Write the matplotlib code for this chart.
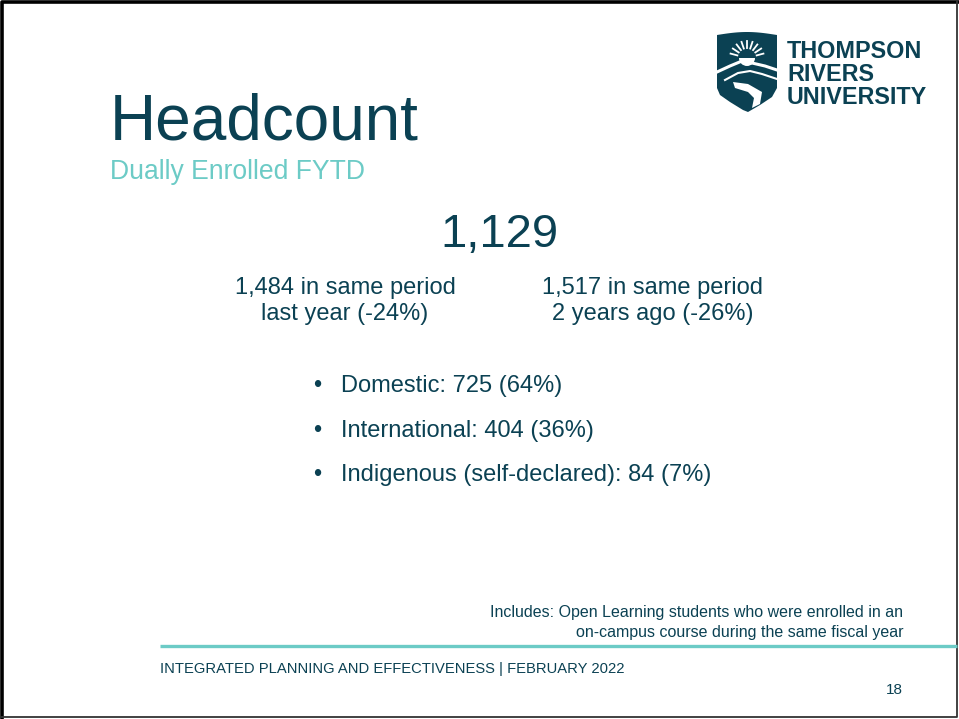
""" Headcount slide - dually enrolled FYTD
"""
import matplotlib
matplotlib.use('Agg')
import matplotlib.pyplot as plt
from matplotlib.patches import Polygon, Wedge
import numpy as np

navy = '#0b4153'
teal = '#6ccbc6'

title = 'Headcount'
subtitle = 'Dually Enrolled FYTD'
total = 1129
prev_counts = [1484, 1517]
prev_labels = ['last year', '2 years ago']
prev_changes = [-24, -26]
groups = ['Domestic', 'International', 'Indigenous (self-declared)']
group_counts = [725, 404, 84]
group_pcts = [64, 36, 7]
note = ['Includes: Open Learning students who were enrolled in an',
        'on-campus course during the same fiscal year']
footer = 'INTEGRATED PLANNING AND EFFECTIVENESS | FEBRUARY 2022'
page = '18'

plt.rcParams['font.family'] = ['Liberation Sans', 'DejaVu Sans']

fig = plt.figure(figsize=(9.59, 7.19), dpi=100)
ax = fig.add_axes([0, 0, 1, 1])
ax.set_xlim(0, 959)
ax.set_ylim(719, 0)
ax.axis('off')

# slide border: heavy on left/top, thin on right/bottom
ax.plot([1.5, 1.5, 959], [719, 1.5, 1.5], color='black', lw=2.6, solid_capstyle='butt')
ax.plot([957.3, 957.3, 0], [0, 717.3, 717.3], color='#333333', lw=1.3)

# titles
ax.text(110, 140, title, fontsize=46, color=navy, va='baseline')
ax.text(110, 179, subtitle, fontsize=19.1, color=teal, va='baseline')

# headline number
ax.text(499, 247, f'{total:,}', fontsize=34, color=navy, va='baseline', ha='center')

# comparisons
for cx, n, lab, ch in zip([345, 652.5], prev_counts, prev_labels, prev_changes):
    ax.text(cx, 294, f'{n:,} in same period', fontsize=17, color=navy,
            va='baseline', ha='center')
    ax.text(cx, 320, f'{lab} ({ch}%)', fontsize=17, color=navy,
            va='baseline', ha='center')

# bullet list
for i, (g, c, p) in enumerate(zip(groups, group_counts, group_pcts)):
    y = 392 + i * 44.5
    ax.text(313, y, '\u2022', fontsize=17, color=navy, va='baseline')
    ax.text(341, y, f'{g}: {c} ({p}%)', fontsize=17, color=navy, va='baseline')

# footnote, rule and footer
ax.text(903, 617, note[0], fontsize=11.5, color=navy, va='baseline', ha='right')
ax.text(903, 637, note[1], fontsize=11.5, color=navy, va='baseline', ha='right')
ax.plot([160, 957], [645.5, 645.5], color=teal, lw=2.4, solid_capstyle='butt')
ax.text(160, 673, footer, fontsize=10.6, color=navy, va='baseline')
ax.text(903, 694, page, fontsize=11, color=navy, va='baseline', ha='right')

# logo: shield
t = np.linspace(0, 1, 30)
top = [(717 + 60 * s, 35 - 3 * np.sin(np.pi * s)) for s in t]
right = [(777, 35), (777, 88), (772, 97), (760, 105), (748, 112)]
left = [(743, 110), (730, 102), (720, 95), (717, 88)]
ax.add_patch(Polygon(top + right + left, closed=True, fc=navy, ec='none'))
# sun and rays
ax.add_patch(Wedge((747, 58), 8, 0, 180, fc='white', ec='none'))
for a in np.linspace(15, 165, 9):
    r = np.radians(a)
    ax.plot([747 + 10 * np.cos(r), 747 + 17 * np.cos(r)],
            [58 - 10 * np.sin(r), 58 - 17 * np.sin(r)], color='white', lw=1.3)
# hills
ax.plot([717, 730, 742, 752, 765, 777], [72, 66, 61, 63, 66, 70], color='white', lw=2.2)
ax.plot([725, 738, 750, 762, 777], [80, 73, 71, 74, 79], color='white', lw=1.5)
# river
ax.add_patch(Polygon([(733, 82), (748, 84), (762, 92), (760, 104), (752, 108),
                      (754, 98), (748, 92), (735, 88)], closed=True, fc='white', ec='none'))

for i, w in enumerate(['THOMPSON', 'RIVERS', 'UNIVERSITY']):
    ax.text(787, 58 + i * 23, w, fontsize=16.8, fontweight='bold', color=navy, va='baseline')

fig.savefig('out.png', dpi=100, facecolor='white')
